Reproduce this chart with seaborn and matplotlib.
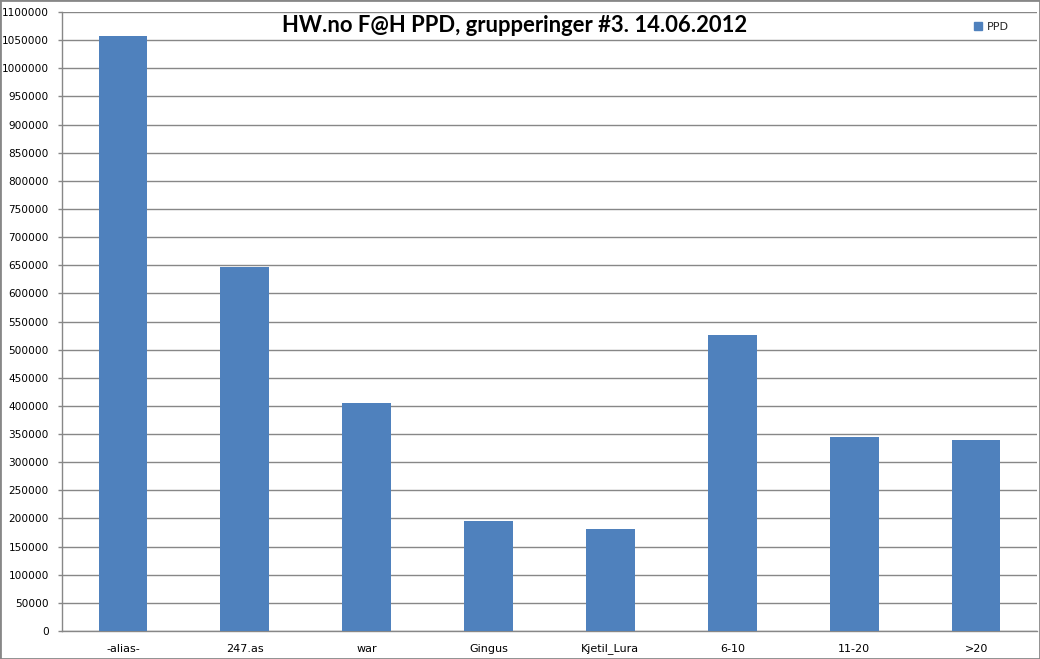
import matplotlib
matplotlib.use("Agg")
import matplotlib.pyplot as plt
import seaborn as sns
import pandas as pd
from matplotlib.patches import Rectangle
from matplotlib.lines import Line2D

categories = ["-alias-", "247.as", "war", "Gingus", "Kjetil_Lura", "6-10", "11-20", ">20"]
ppd = [1057000, 647000, 405000, 195000, 181000, 526000, 345000, 339000]
title = "HW.no F@H PPD, grupperinger #3. 14.06.2012"
series_name = "PPD"

sns.set_theme(style="white")
plt.rcParams['font.family'] = ['DejaVu Sans']

df = pd.DataFrame({"cat": categories, "val": ppd})

fig = plt.figure(figsize=(10.4, 6.59), dpi=100)
ax = fig.add_axes([62/1040, 1 - 631/659, (1037-62)/1040, (631-12)/659])
bar_color = "#4F81BD"
sns.barplot(data=df, x="cat", y="val", color=bar_color, width=0.4, ax=ax,
            saturation=1, zorder=3, linewidth=0, edgecolor="none")

ax.set_ylim(0, 1100000)
ax.set_xlim(-0.5, len(categories) - 0.5)
ax.set_yticks(range(0, 1100001, 50000))
ax.set_yticklabels([str(v) for v in range(0, 1100001, 50000)], fontsize=7.6, color="black")
ax.yaxis.grid(True, color="#878787", linewidth=1, zorder=0)
ax.set_axisbelow(True)
ax.set_xlabel("")
ax.set_ylabel("")

ax.set_xticks([i for i in range(len(categories))])
ax.set_xticklabels(categories, fontsize=8, color="black")
ax.tick_params(axis="x", length=0, pad=9)
ax.set_xticks([i - 0.5 for i in range(len(categories) + 1)], minor=True)
ax.tick_params(axis="x", which="minor", length=4, color="#878787", width=1, direction="out")
ax.tick_params(axis="y", length=3, color="#878787", width=1, direction="out", pad=6.5, left=True)

for s in ["top", "right"]:
    ax.spines[s].set_visible(False)
for s in ["left", "bottom"]:
    ax.spines[s].set_color("#878787")
    ax.spines[s].set_linewidth(1)

fig.text(515/1040, 1 - 26/659, title, ha="center", va="center", color="black",
         fontsize=15.8, fontweight="bold", family=["Lato", "DejaVu Sans"], zorder=5)

handle = Line2D([], [], marker="s", linestyle="none", color=bar_color, markersize=5.5)
leg = fig.legend([handle], [series_name], loc="center left",
                 bbox_to_anchor=(962/1040, 1 - 27/659),
                 frameon=False, fontsize=8, handletextpad=0.3, handlelength=1)

fig.patches.append(Rectangle((0, 0), 1, 1, transform=fig.transFigure, fill=False,
                             edgecolor="#878787", linewidth=2))

fig.savefig("out.png", dpi=100, facecolor="white")
